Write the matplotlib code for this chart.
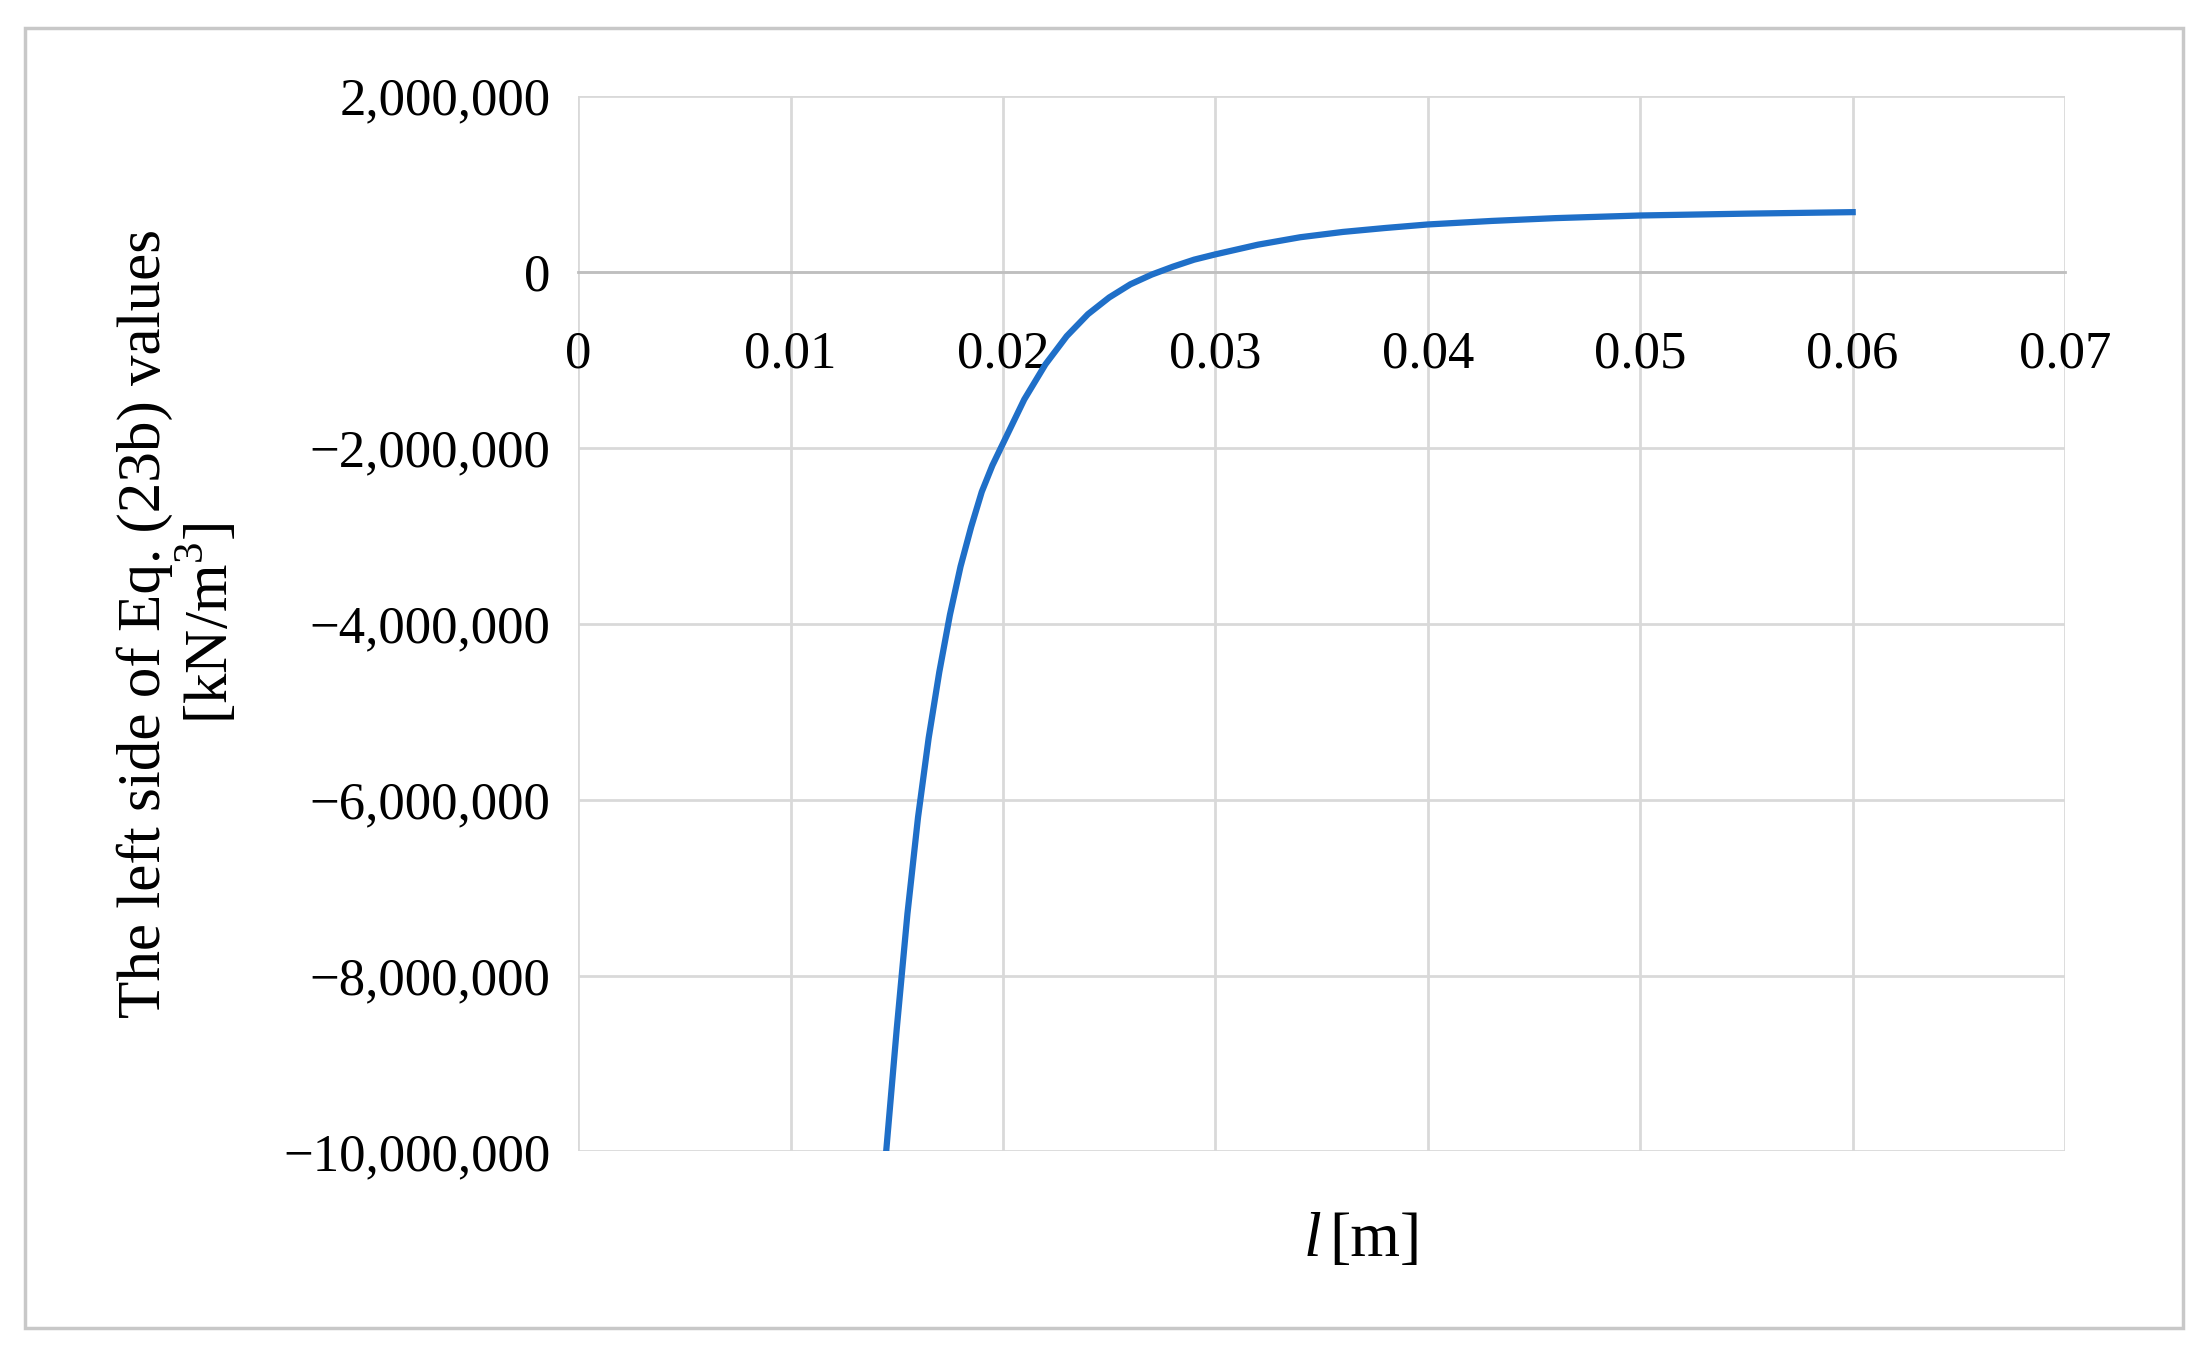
import matplotlib
matplotlib.use("Agg")
import matplotlib.pyplot as plt
from matplotlib.ticker import FuncFormatter
from matplotlib.patches import Rectangle

l_vals = [0.0145, 0.0150, 0.0155, 0.0160, 0.0165, 0.0170, 0.0175, 0.0180, 0.0185, 0.0190,
          0.0195, 0.0200, 0.0210, 0.0220, 0.0230, 0.0240, 0.0250, 0.0260, 0.0270, 0.0280,
          0.0290, 0.0300, 0.0320, 0.0340, 0.0360, 0.0380, 0.0400, 0.0430, 0.0460, 0.0500,
          0.0550, 0.0600]
lhs_vals = [-10000000, -8600000, -7300000, -6200000, -5300000, -4550000, -3900000, -3350000,
            -2900000, -2500000, -2200000, -1950000, -1450000, -1050000, -730000, -480000,
            -290000, -140000, -30000, 60000, 140000, 200000, 310000, 395000, 455000, 500000,
            540000, 580000, 612000, 642000, 663000, 680000]
x_ticks = [0, 0.01, 0.02, 0.03, 0.04, 0.05, 0.06, 0.07]
y_ticks = [2000000, 0, -2000000, -4000000, -6000000, -8000000, -10000000]

plt.rcParams['font.family'] = ['Liberation Serif', 'DejaVu Serif']
plt.rcParams['mathtext.fontset'] = 'custom'
plt.rcParams['mathtext.rm'] = 'Liberation Serif'
fig = plt.figure(figsize=(22.11, 13.53), dpi=100)
fig.patches.append(Rectangle((18/1568, 1-942/960), 1530/1568, 922/960, transform=fig.transFigure,
                             fill=False, edgecolor='#c8c8c8', linewidth=2.5))
ax = fig.add_axes([0.2615, 0.149, 0.934-0.2615, 0.929-0.149])
ax.plot(l_vals, lhs_vals, color='#1f6fc8', linewidth=4.5, zorder=3)
ax.set_xlim(0, 0.07)
ax.set_ylim(-10000000, 2000000)
ax.set_xticks(x_ticks)
ax.set_yticks(y_ticks)
ax.xaxis.set_major_formatter(FuncFormatter(lambda v, p: '0' if v == 0 else f'{v:.2f}'))
ax.yaxis.set_major_formatter(FuncFormatter(lambda v, p: f'{v:,.0f}'.replace('-', '\u2212')))
ax.grid(True, color='#d9d9d9', linewidth=2)
for s in ['top', 'right', 'left']:
    ax.spines[s].set_visible(False)
ax.spines['bottom'].set_position(('data', 0))
ax.spines['bottom'].set_color('#bfbfbf')
ax.spines['bottom'].set_linewidth(2)
ax.tick_params(axis='both', length=0, labelsize=38)
ax.tick_params(axis='x', pad=42)
ax.tick_params(axis='y', pad=20)
ax.text(0.5, -0.085, 'l', style='italic', fontsize=46, transform=ax.transAxes, ha='right', va='center')
ax.text(0.505, -0.085, '[m]', fontsize=46, transform=ax.transAxes, ha='left', va='center')
ax.set_ylabel('The left side of Eq. (23b) values\n[kN/m$^3$]', fontsize=44, labelpad=30, linespacing=1.1)
fig.savefig('out.png', dpi=100)
